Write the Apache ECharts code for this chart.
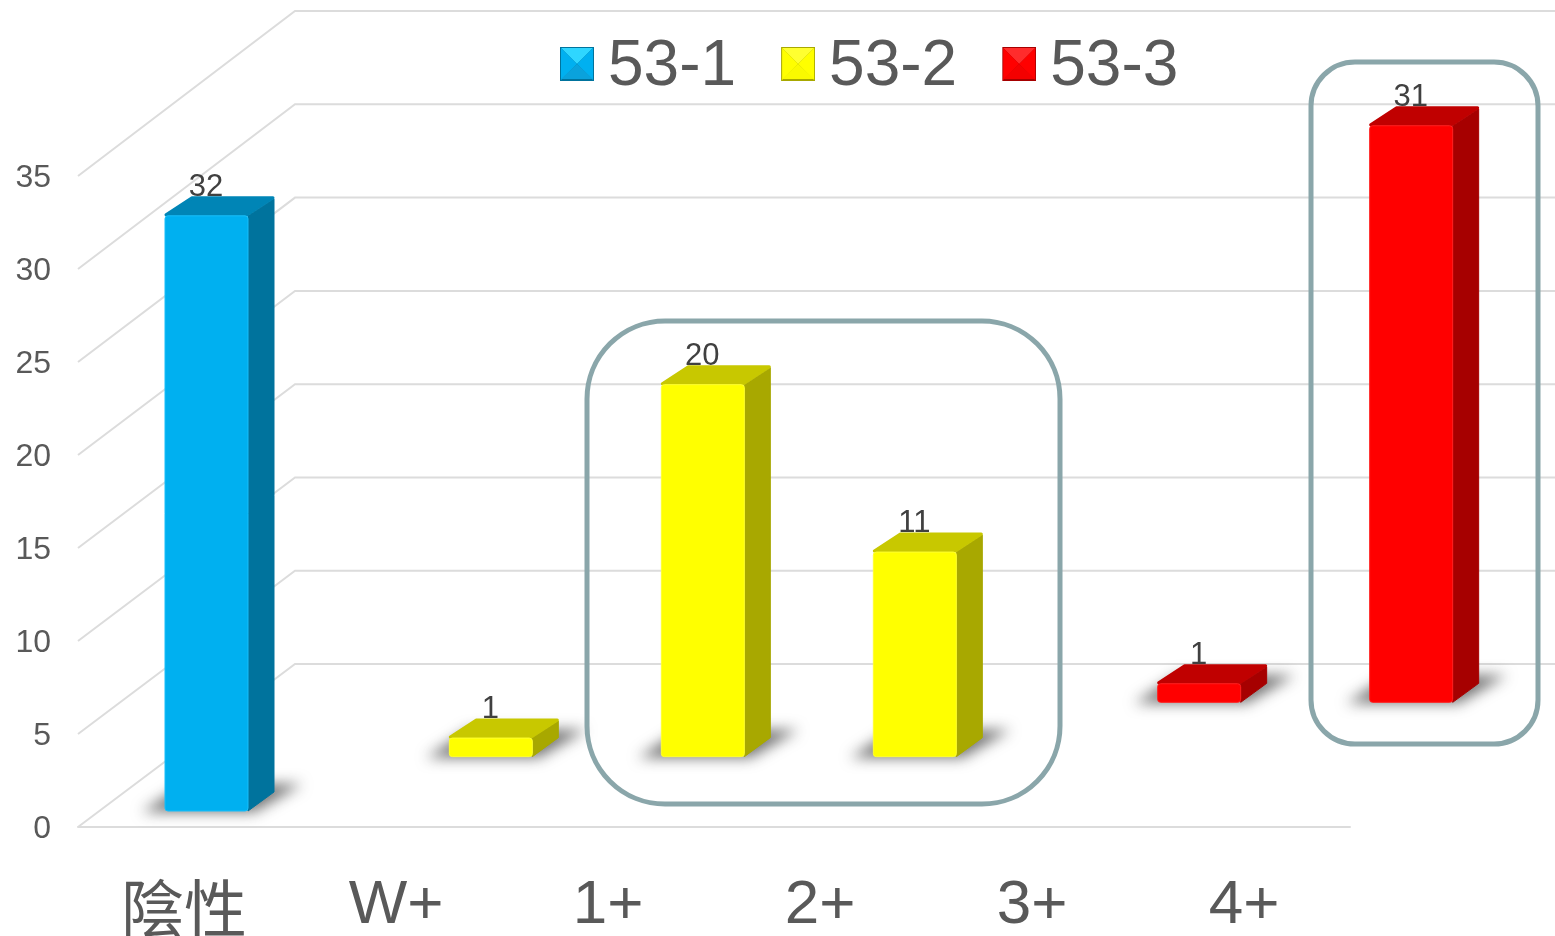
<!DOCTYPE html>
<html>
<head>
<meta charset="utf-8">
<style>html,body{margin:0;padding:0;background:#fff;overflow:hidden}#chart{width:1555px;height:936px}</style>
<script src="https://cdn.jsdelivr.net/npm/echarts@6/dist/echarts.min.js"></script>
</head>
<body>
<div id="chart"></div>
<script>
// Grade distribution per lot, drawn as a 3D-looking column chart
const categories = ['陰性', 'W+', '1+', '2+', '3+', '4+'];
const lot1Values = [32, null, null, null, null, null];
const lot2Values = [null, 1, 20, 11, null, null];
const lot3Values = [null, null, null, null, 1, 31];
const seriesNames = ['53-1', '53-2', '53-3'];
const yTicks = [0, 5, 10, 15, 20, 25, 30, 35];

// Perspective of the floor: how far the back wall sits from the front plane
const WALL_DX = 217, WALL_DY = 163, WALL_SCALE = 1.003;
const ROW_DX = WALL_DX / 3, ROW_DY = WALL_DY / 3;
const BAR_W = 83, BAR_DX = 26, BAR_DY = 19;
const FONT = '"Liberation Sans", "Noto Sans CJK TC", sans-serif';

const palettes = [
  { front: '#00B0F0', top: '#0085B6', side: '#00739D', edge: '#19BEFA', icon: ['#2FD6FF', '#00B0F0', '#0AA2DC', '#00739D'] },
  { front: '#FFFF00', top: '#C8C800', side: '#A8A800', edge: '#FFFF30', icon: ['#FFFF30', '#FFFF00', '#FAFA00', '#A8A800'] },
  { front: '#FF0000', top: '#C00000', side: '#A60000', edge: '#FF2020', icon: ['#FF2C2C', '#FF0000', '#F40000', '#A60000'] }
];

// Bevelled square used as the legend key; the spare strip below lifts it against the text
function legendIcon(p) {
  const svg = '<svg xmlns="http://www.w3.org/2000/svg" width="34" height="40" viewBox="0 0 34 40">' +
    '<rect width="34" height="34" fill="' + p.icon[3] + '"/>' +
    '<polygon points="1,1 33,1 17,17" fill="' + p.icon[0] + '"/>' +
    '<polygon points="1,1 17,17 1,33" fill="' + p.icon[1] + '"/>' +
    '<polygon points="33,1 17,17 33,33" fill="' + p.icon[1] + '"/>' +
    '<polygon points="1,32 33,32 17,17" fill="' + p.icon[2] + '"/>' +
    '</svg>';
  return 'image://data:image/svg+xml;charset=utf-8,' + encodeURIComponent(svg);
}

function renderWall(params, api) {
  const y = api.coord([0, api.value(0)])[1];
  const cs = params.coordSys;
  const floorY = cs.y + cs.height;
  const backY = floorY - WALL_DY - (floorY - y) * WALL_SCALE;
  return {
    type: 'polyline',
    silent: true,
    shape: { points: [[cs.x, y], [cs.x + WALL_DX, backY], [cs.x + WALL_DX + cs.width, backY]] },
    style: { fill: null, stroke: '#DCDCDC', lineWidth: 2 }
  };
}

function barRenderer(row) {
  const p = palettes[row];
  return function (params, api) {
    const value = api.value(1);
    if (value == null || isNaN(value)) return null;
    const cat = api.value(0);
    const base = api.coord([cat, 0]);
    const head = api.coord([cat, value]);
    const x = base[0] - 19 + row * ROW_DX;
    const yb = base[1] - 16 - row * ROW_DY;
    const yt = head[1] - 16 - row * ROW_DY;
    const far = 4000;
    return {
      type: 'group',
      silent: true,
      children: [
        // soft contact shadow on the floor, painted only through its blurred offset copy
        {
          type: 'polygon',
          shape: { points: [
            [x - 23 - far, yb + 1], [x + BAR_W + 6 - far, yb + 1],
            [x + BAR_W + BAR_DX + 28 - far, yb - BAR_DY - 8], [x + 20 - far, yb - BAR_DY - 8]
          ] },
          style: { fill: '#000', shadowColor: 'rgba(30,30,30,0.62)', shadowBlur: 14, shadowOffsetX: far, shadowOffsetY: 0 }
        },
        {
          type: 'polygon',
          shape: { points: [[x + BAR_W, yb], [x + BAR_W + BAR_DX, yb - BAR_DY], [x + BAR_W + BAR_DX, yt - BAR_DY + 2], [x + BAR_W, yt]] },
          style: { fill: p.side, stroke: p.side, lineWidth: 1, lineJoin: 'round' }
        },
        {
          type: 'polygon',
          shape: { points: [[x + 1, yt - 1], [x + BAR_DX + 1, yt - BAR_DY + 1], [x + BAR_W + BAR_DX - 1, yt - BAR_DY + 1], [x + BAR_W - 1, yt - 1]] },
          style: { fill: p.top, stroke: p.top, lineWidth: 3, lineJoin: 'round' }
        },
        {
          type: 'rect',
          shape: { x: x, y: yt, width: BAR_W, height: yb - yt, r: 3 },
          style: { fill: p.front, stroke: p.edge, lineWidth: 1 }
        },
        {
          type: 'text',
          style: {
            x: x + BAR_W / 2 - 0.5, y: yt - BAR_DY + 6, text: String(value),
            align: 'center', verticalAlign: 'bottom',
            font: '31px ' + FONT, fill: '#404040'
          }
        }
      ]
    };
  };
}

const rows = [lot1Values, lot2Values, lot3Values];

const chart = echarts.init(document.getElementById('chart'));
chart.setOption({
  animation: false,
  backgroundColor: '#fff',
  grid: { left: 78, right: 205, top: 176, bottom: 109, outerBoundsMode: 'none' },
  legend: {
    left: 555, top: 30,
    itemWidth: 34, itemHeight: 40, itemGap: 45,
    data: seriesNames.map((name, i) => ({ name: name, icon: legendIcon(palettes[i]) })),
    selectedMode: false,
    textStyle: { fontFamily: FONT, fontSize: 64, color: '#595959', padding: [0, 0, 0, 9] }
  },
  xAxis: {
    type: 'category',
    data: categories,
    axisLine: { lineStyle: { color: '#DCDCDC', width: 2 } },
    axisTick: { show: false },
    axisLabel: {
      fontFamily: FONT, fontSize: 62, color: '#595959', margin: 48, interval: 0,
      formatter: v => (v === categories[0] ? '{cjk|' + v + '}' : v),
      rich: { cjk: { fontFamily: '"Noto Sans CJK TC"', fontSize: 63, color: '#595959', padding: [2, 0, 0, 0] } }
    }
  },
  yAxis: {
    type: 'value',
    min: 0, max: 35, interval: 5,
    axisLine: { show: false },
    axisTick: { show: false },
    splitLine: { show: false },
    axisLabel: { fontFamily: FONT, fontSize: 32, color: '#595959', margin: 27, verticalAlign: 'top', lineHeight: 4 }
  },
  series: [
    {
      type: 'custom', name: 'walls', coordinateSystem: 'cartesian2d', z: 1, silent: true,
      data: yTicks.map(v => [v]), encode: { y: 0 }, renderItem: renderWall
    }
  ].concat(seriesNames.map((name, row) => ({
    type: 'custom',
    name: name,
    coordinateSystem: 'cartesian2d',
    z: 5 - row,
    silent: true,
    itemStyle: { color: palettes[row].front },
    data: categories.map((c, i) => [i, rows[row][i]]),
    encode: { x: 0, y: 1 },
    renderItem: barRenderer(row)
  }))),
  graphic: [
    { type: 'rect', z: 20, silent: true, shape: { x: 587, y: 321, width: 473, height: 483, r: 78 }, style: { fill: 'transparent', stroke: '#8AA6AA', lineWidth: 5 } },
    { type: 'rect', z: 20, silent: true, shape: { x: 1311, y: 62, width: 227, height: 682, r: 44 }, style: { fill: 'transparent', stroke: '#8AA6AA', lineWidth: 5 } }
  ]
});
</script>
</body>
</html>
